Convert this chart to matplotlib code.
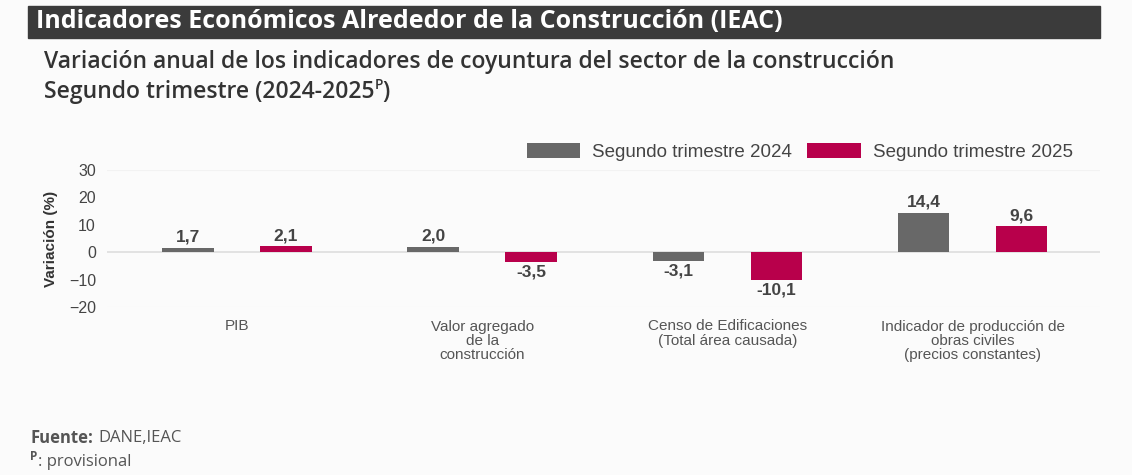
import matplotlib
matplotlib.use("Agg")
import matplotlib.pyplot as plt
import numpy as np
from matplotlib.patches import Rectangle

# datos
categorias = ["PIB", "Valor agregado\nde la\nconstrucción",
              "Censo de Edificaciones\n(Total área causada)",
              "Indicador de producción de\nobras civiles\n(precios constantes)"]
trim_2024 = [1.7, 2.0, -3.1, 14.4]
trim_2025 = [2.1, -3.5, -10.1, 9.6]
series = ["Segundo trimestre 2024", "Segundo trimestre 2025"]
yticks = [30, 20, 10, 0, -10, -20]

GRIS = "#686868"
ROJO = "#b8004b"
BG = "#fbfbfb"
W, H = 1132, 475

fig = plt.figure(figsize=(11.32, 4.75), dpi=100, facecolor=BG)

# barra de título
fig.patches.append(Rectangle((28 / W, 1 - 38 / H), (1100 - 28) / W, 32 / H,
                             transform=fig.transFigure, color="#3b3b3b", zorder=0))
fig.text(36 / W, 1 - 22 / H, "Indicadores Económicos Alrededor de la Construcción (IEAC)",
         family="Open Sans", weight="bold", size=18, color="white", va="center")
fig.text(44 / W, 1 - 62 / H,
         "Variación anual de los indicadores de coyuntura del sector de la construcción",
         family="Open Sans", weight="semibold", size=16.5, color="#333333", va="center")
t2 = fig.text(44 / W, 1 - 92 / H, "Segundo trimestre (2024-2025",
              family="Open Sans", weight="semibold", size=16.5, color="#333333", va="center")

ax = fig.add_axes([107 / W, 168 / H, 993 / W, 137 / H])
ax.set_facecolor(BG)
x = np.arange(len(categorias))
w = 0.21
b1 = ax.bar(x - 0.2, trim_2024, w, color=GRIS, label=series[0], zorder=3)
b2 = ax.bar(x + 0.2, trim_2025, w, color=ROJO, label=series[1], zorder=3)

for bars, vals in ((b1, trim_2024), (b2, trim_2025)):
    for r, v in zip(bars, vals):
        off = 2 if v >= 0 else -2
        ax.annotate(f"{v:.1f}".replace(".", ","), (r.get_x() + r.get_width() / 2, v),
                    xytext=(0, off), textcoords="offset points",
                    ha="center", va="bottom" if v >= 0 else "top",
                    family="Liberation Sans", weight="bold", size=12.5, color="#444444")

ax.set_xlim(-0.53, 3.52)
ax.set_ylim(-20, 30)
ax.set_yticks(yticks)
ax.axhline(0, color="#dddddd", lw=1.2, zorder=2)
ax.axhline(-20, color="#eeeeee", lw=0.8, zorder=1)
ax.axhline(30, color="#f2f2f2", lw=0.8, zorder=1)
for s in ax.spines.values():
    s.set_visible(False)
ax.tick_params(axis="y", length=0, pad=8, labelsize=11.5, labelcolor="#444444")
ax.tick_params(axis="x", length=0, pad=9, labelsize=11, labelcolor="#555555")
for lbl in ax.get_yticklabels():
    lbl.set_family("Liberation Sans")
ax.set_xticks(x)
ax.set_xticklabels(categorias, family="Liberation Sans", linespacing=1.02)
ax.set_ylabel("Variación (%)", family="Liberation Sans", weight="bold", size=11,
              color="#333333", labelpad=8)

fig.legend(handles=[b1, b2], labels=series, loc="center left",
           bbox_to_anchor=(510 / W, 1 - 152 / H), ncol=2, frameon=False,
           prop={"family": "Liberation Sans", "size": 13.5}, labelcolor="#444444",
           handlelength=2.85, handleheight=0.8, columnspacing=0.8, handletextpad=0.64)

# superíndice P
fig.canvas.draw()
bb = t2.get_window_extent()
fig.text(bb.x1 / W, 1 - 85 / H, "P", family="Open Sans", weight="semibold",
         size=10, color="#333333", va="center")
fig.text((bb.x1 + 8) / W, 1 - 92 / H, ")", family="Open Sans", weight="semibold",
         size=16.5, color="#333333", va="center")

# pie
f1 = fig.text(30 / W, 1 - 438 / H, "Fuente:", family="Open Sans", weight="bold",
              size=12, color="#555555", va="center")
fig.canvas.draw()
bf = f1.get_window_extent()
fig.text((bf.x1 + 5) / W, 1 - 438 / H, "DANE,IEAC", family="Open Sans",
         size=12, color="#555555", va="center")
fig.text(30 / W, 1 - 457 / H, "P", family="Open Sans", weight="bold",
         size=8.5, color="#555555", va="center")
fig.text(38 / W, 1 - 462 / H, ": provisional", family="Open Sans",
         size=12, color="#555555", va="center")

fig.savefig("out.png", dpi=100, facecolor=BG)
